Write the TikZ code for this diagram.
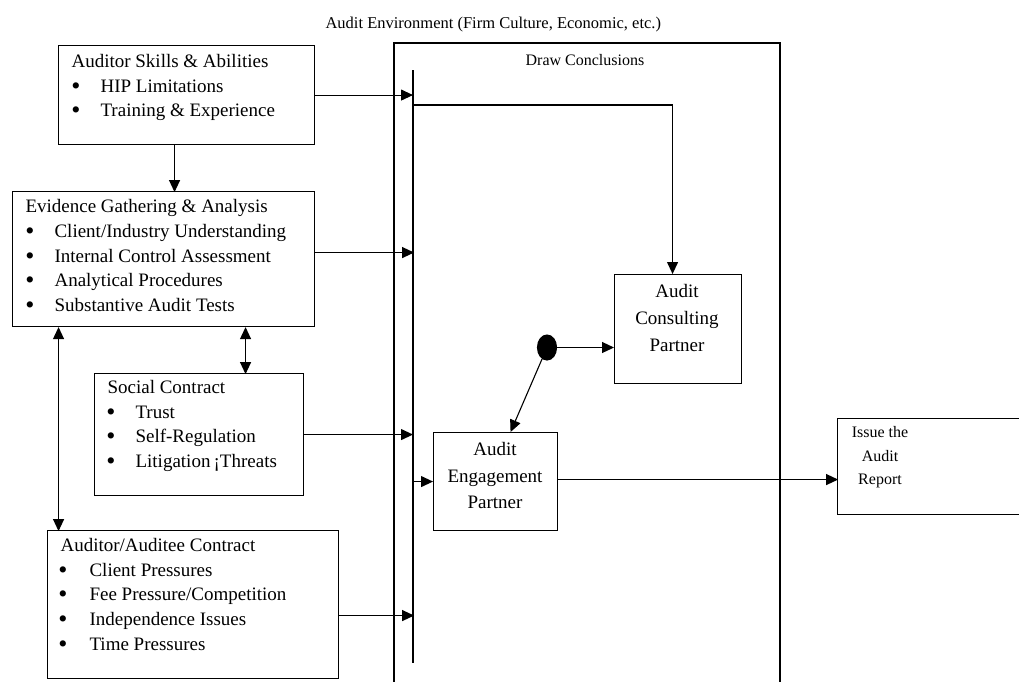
\documentclass[tikz,border=0pt]{standalone}
\usepackage{fontspec}
\setmainfont{Liberation Serif}
\usetikzlibrary{arrows.meta,shapes.geometric}
\begin{document}
\begin{tikzpicture}[x=1pt,y=-1pt,line width=1.1pt,
  >={Triangle[length=12pt,width=11pt]},
  box/.style={draw,rectangle,inner sep=0pt,anchor=north west},
  txt/.style={anchor=base west,inner sep=0pt,font=\fontsize{19}{22}\selectfont},
  bul/.style={anchor=base,inner sep=0pt,font=\fontsize{26}{22}\selectfont},
  ctxt/.style={anchor=base,inner sep=0pt,font=\fontsize{19}{22}\selectfont},
  stxt/.style={anchor=base,inner sep=0pt,font=\fontsize{16}{20}\selectfont},
  dotnode/.style={draw,fill=black,ellipse,inner sep=0pt,minimum width=19pt,minimum height=25pt}]
\useasboundingbox (0,0) rectangle (1019,681);

% title and frame
\node[anchor=base west,inner sep=0pt,font=\fontsize{16.5}{20}\selectfont] (title) at (325,28) {Audit Environment (Firm Culture, Economic, etc.)};
\coordinate (frBL) at (394,700);
\coordinate (frTL) at (394,43);
\coordinate (frTR) at (780,43);
\coordinate (frBR) at (780,700);
\draw (frBL) -- (frTL) -- (frTR) -- (frBR);
\node[stxt] (dc) at (585,65) {Draw Conclusions};
\coordinate (barT) at (413,70);
\coordinate (barB) at (413,663);
\draw (barT) -- (barB);

% boxes
\node[box,minimum width=256pt,minimum height=99pt] (skills) at (58,45) {};
\node[box,minimum width=302pt,minimum height=135pt] (evid) at (12,191) {};
\node[box,minimum width=209pt,minimum height=122pt] (social) at (94,373) {};
\node[box,minimum width=291pt,minimum height=148pt] (auditee) at (47,530) {};
\node[box,minimum width=127pt,minimum height=109pt] (consult) at (614,274) {};
\node[box,minimum width=124pt,minimum height=98pt] (engage) at (433,432) {};
\node[box,minimum width=190pt,minimum height=96pt] (issue) at (837,418) {};

% skills text
\node[txt] (sk0) at (71,67) {Auditor Skills \& Abilities};
\node[bul] (skb1) at (76,94) {•};
\node[txt] (sk1) at (100,92) {HIP Limitations};
\node[bul] (skb2) at (76,118) {•};
\node[txt] (sk2) at (100,116) {Training \& Experience};

% evidence text
\node[txt] (ev0) at (25,212) {Evidence Gathering \& Analysis};
\node[bul] (evb1) at (30,239) {•};
\node[txt] (ev1) at (54,237) {Client/Industry Understanding};
\node[bul] (evb2) at (30,264) {•};
\node[txt] (ev2) at (54,262) {Internal Control Assessment};
\node[bul] (evb3) at (30,288) {•};
\node[txt] (ev3) at (54,286) {Analytical Procedures};
\node[bul] (evb4) at (30,313) {•};
\node[txt] (ev4) at (54,311) {Substantive Audit Tests};

% social text
\node[txt] (so0) at (107,393) {Social Contract};
\node[bul] (sob1) at (111,420) {•};
\node[txt] (so1) at (135,418) {Trust};
\node[bul] (sob2) at (111,444) {•};
\node[txt] (so2) at (135,442) {Self-Regulation};
\node[bul] (sob3) at (111,469) {•};
\node[txt] (so3) at (135,467) {Litigation\,¡Threats};

% auditee text
\node[txt] (au0) at (60,551) {Auditor/Auditee Contract};
\node[bul] (aub1) at (63,578) {•};
\node[txt] (au1) at (89,576) {Client Pressures};
\node[bul] (aub2) at (63,602) {•};
\node[txt] (au2) at (89,600) {Fee Pressure/Competition};
\node[bul] (aub3) at (63,627) {•};
\node[txt] (au3) at (89,625) {Independence Issues};
\node[bul] (aub4) at (63,652) {•};
\node[txt] (au4) at (89,650) {Time Pressures};

% consulting / engagement / issue text
\node[ctxt] (co1) at (677,297) {Audit};
\node[ctxt] (co2) at (677,324) {Consulting};
\node[ctxt] (co3) at (677,351) {Partner};
\node[ctxt] (en1) at (495,455) {Audit};
\node[ctxt] (en2) at (495,482) {Engagement};
\node[ctxt] (en3) at (495,508) {Partner};
\node[stxt] (is1) at (880,437) {Issue the};
\node[stxt] (is2) at (880,461) {Audit};
\node[stxt] (is3) at (880,484) {Report};

% dot
\node[dotnode] (dot) at (547,347.5) {};

% connectors
\draw[->] (skills.east) -- (skills.east -| barT);
\draw[->] ([yshift=6.5pt]evid.east) -- +(99,0);
\draw[->] (social.east) -- (social.east -| barT);
\draw[->] ([yshift=-11pt]auditee.east) -- +(75,0);
\draw[->] ([xshift=-12pt]skills.south) -- +(0,47);
\draw[<->] ([xshift=82pt]evid.south) -- +(0,47);
\draw[<->] ([xshift=-105pt]evid.south) -- +(0,204);
\coordinate (tf) at (413,105);
\draw[->] (tf) -| ([xshift=-5.5pt]consult.north);
\draw[->] (engage.west -| barT) -- (engage.west);
\draw[->] (dot.east) -- (dot.east -| consult.west);
\draw[->] (dot) -- ([xshift=15pt]engage.north);
\draw[->] ([yshift=2pt]engage.east) -- +(280,0);
\end{tikzpicture}
\end{document}
